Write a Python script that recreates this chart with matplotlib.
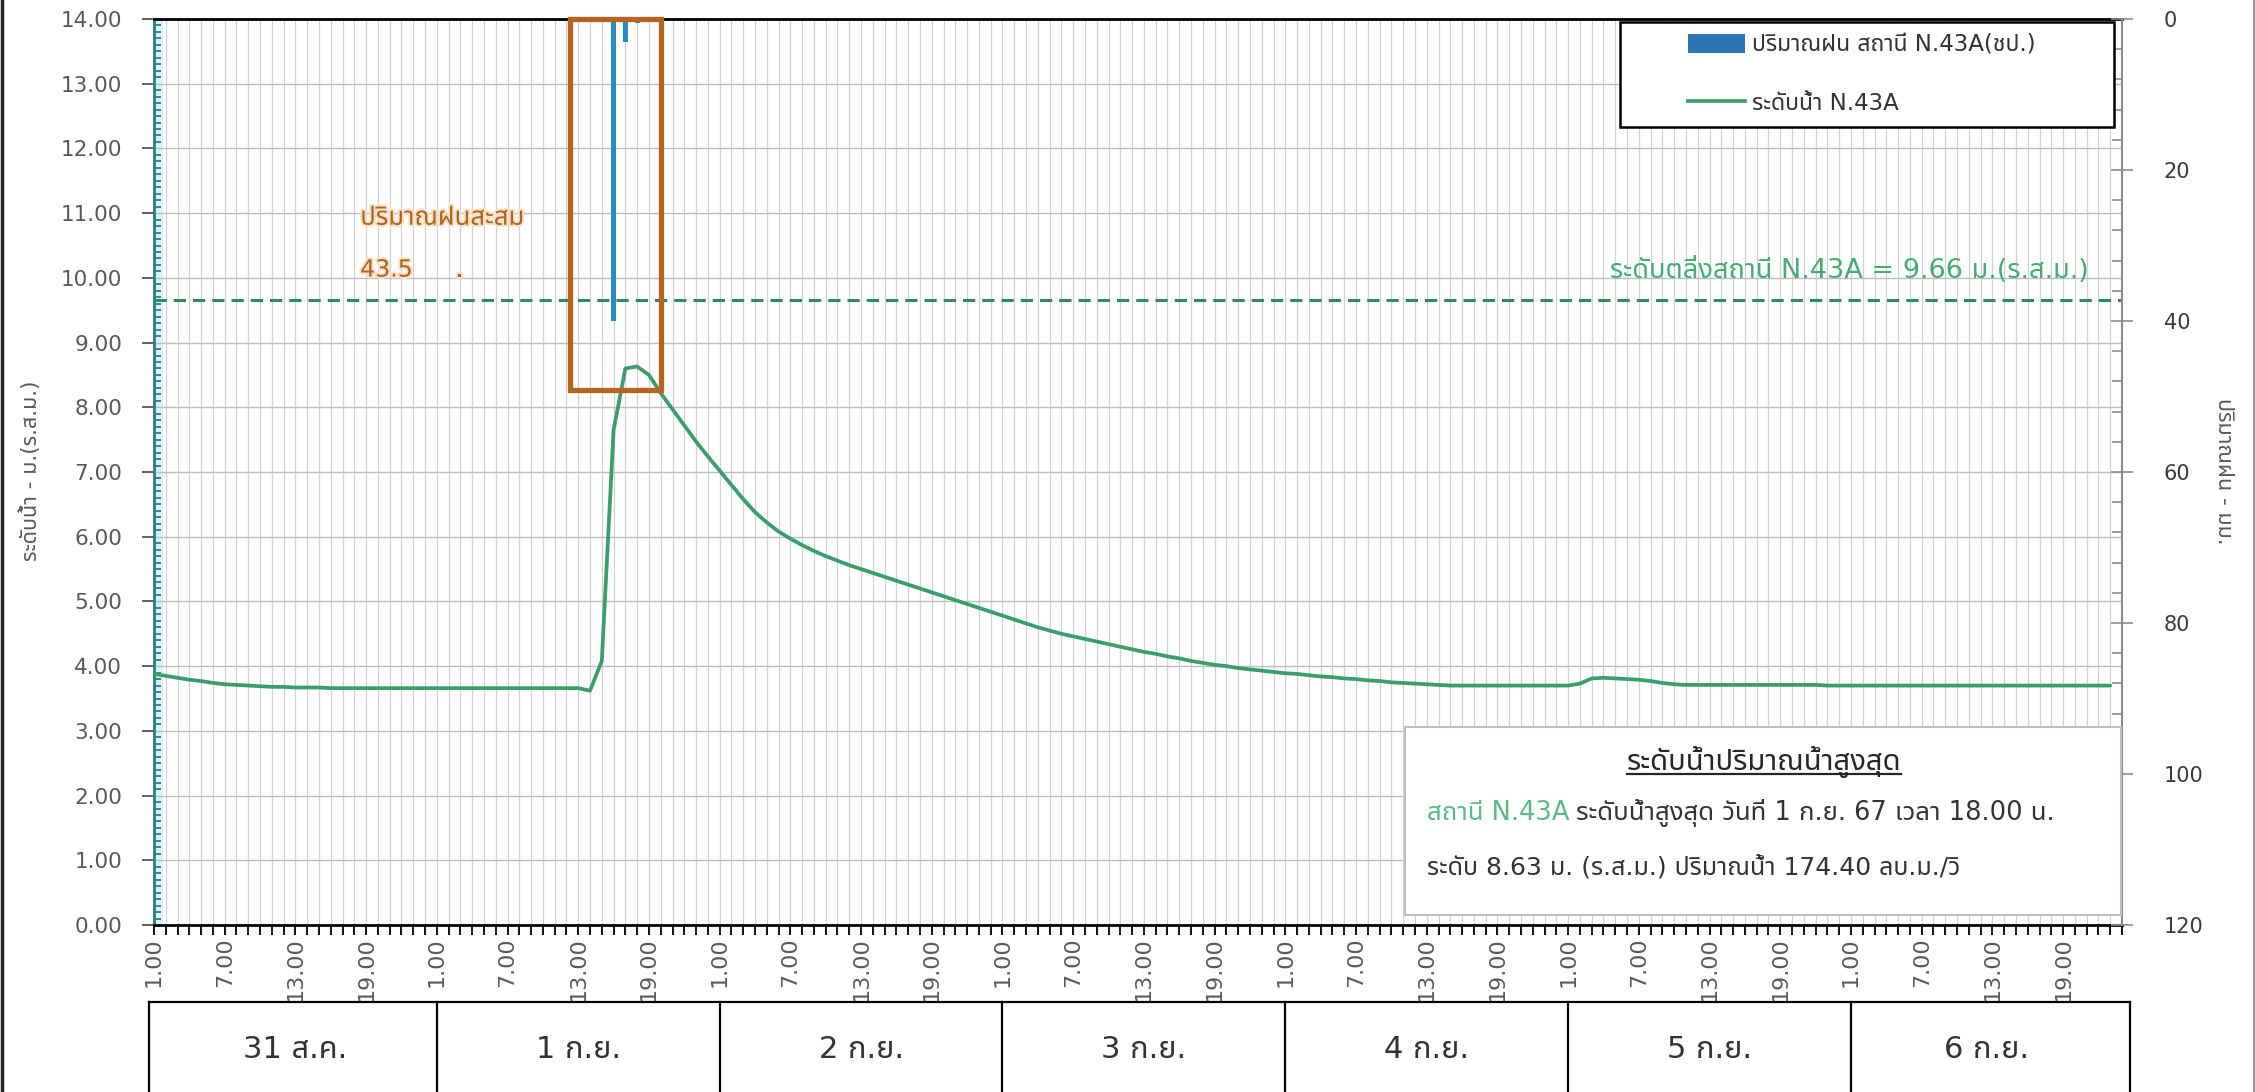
import numpy as np
import matplotlib
matplotlib.use('Agg')
import matplotlib.pyplot as plt
from matplotlib import font_manager
from matplotlib.patches import Rectangle, Patch
from matplotlib.lines import Line2D
import matplotlib.patheffects as pe


def find_thai_font():
    try:
        from fontTools.ttLib import TTFont
    except Exception:
        return None
    found = []
    for f in font_manager.fontManager.ttflist:
        try:
            kw = {}
            if f.fname.lower().endswith(('.ttc', '.otc')):
                kw['fontNumber'] = 0
            tt = TTFont(f.fname, lazy=True, **kw)
            cmap = tt.getBestCmap() or {}
            if 0x0E01 in cmap and 0x0E49 in cmap and 0x0E33 in cmap:
                found.append(f.name)
        except Exception:
            pass
    pref = ['Tahoma', 'Noto Sans Thai', 'Noto Sans Thai UI', 'Loma', 'Garuda',
            'Umpush', 'Sarabun', 'Waree', 'Kinnari', 'Norasi', 'Laksaman']
    for p in pref:
        if p in found:
            return p
    return found[0] if found else None


thai = find_thai_font()
families = ['DejaVu Sans'] + ([thai] if thai and thai != 'DejaVu Sans' else [])
plt.rcParams['font.family'] = families

# ---------------- data ----------------
day_labels = ['31 ส.ค.', '1 ก.ย.', '2 ก.ย.', '3 ก.ย.', '4 ก.ย.', '5 ก.ย.', '6 ก.ย.']
hour_tick_labels = ['1.00', '7.00', '13.00', '19.00']

# hourly water level (m. MSL), 31 Aug 1.00 onward
level_31aug = [3.88, 3.85, 3.82, 3.79, 3.77, 3.74, 3.72, 3.71, 3.70, 3.69, 3.68, 3.68,
               3.67, 3.67, 3.67, 3.66, 3.66, 3.66, 3.66, 3.66, 3.66, 3.66, 3.66, 3.66]
level_1sep = [3.66, 3.66, 3.66, 3.66, 3.66, 3.66, 3.66, 3.66, 3.66, 3.66, 3.66, 3.66,
              3.66, 3.62, 4.08, 7.65, 8.60, 8.63, 8.50, 8.22, 7.97, 7.72, 7.47, 7.24]
level_2sep = [7.02, 6.80, 6.58, 6.38, 6.22, 6.08, 5.97, 5.87, 5.78, 5.70, 5.63, 5.56,
              5.50, 5.44, 5.38, 5.32, 5.26, 5.20, 5.14, 5.08, 5.02, 4.96, 4.90, 4.84]
level_3sep = [4.78, 4.72, 4.66, 4.60, 4.55, 4.50, 4.46, 4.42, 4.38, 4.34, 4.30, 4.26,
              4.22, 4.19, 4.15, 4.12, 4.08, 4.05, 4.02, 4.00, 3.97, 3.95, 3.93, 3.91]
level_4sep = [3.89, 3.88, 3.86, 3.84, 3.83, 3.81, 3.80, 3.78, 3.77, 3.75, 3.74, 3.73,
              3.72, 3.71, 3.70, 3.70, 3.70, 3.70, 3.70, 3.70, 3.70, 3.70, 3.70, 3.70]
level_5sep = [3.70, 3.73, 3.81, 3.82, 3.81, 3.80, 3.79, 3.77, 3.74, 3.72, 3.71, 3.71,
              3.71, 3.71, 3.71, 3.71, 3.71, 3.71, 3.71, 3.71, 3.71, 3.71, 3.70, 3.70]
level_6sep = [3.70, 3.70, 3.70, 3.70, 3.70, 3.70, 3.70, 3.70, 3.70, 3.70, 3.70, 3.70,
              3.70, 3.70, 3.70, 3.70, 3.70, 3.70, 3.70, 3.70, 3.70, 3.70, 3.70]

# rainfall (mm) at hour index
rain_hours = [39, 40, 41]
rain_mm = [40.0, 3.0, 0.5]

bank_level = 9.66
n_categories = 168

level = (level_31aug + level_1sep + level_2sep + level_3sep +
         level_4sep + level_5sep + level_6sep)
hours = np.arange(len(level))

# ---------------- figure ----------------
W, H = 2255, 1092
fig = plt.figure(figsize=(W / 100, H / 100), dpi=100)
fig.patch.set_facecolor('white')

L, R, B, T = 154 / W, 2122 / W, 1 - 925 / H, 1 - 19 / H
ax = fig.add_axes([L, B, R - L, T - B])
ax2 = ax.twinx()

GREEN = '#3a9e6b'
xmax = n_categories - 1
ax.set_xlim(0, xmax)
ax.set_ylim(0, 14)

# light cyan band along the left axis
ax.add_patch(Rectangle((0, 0), 9 / (2122 - 154), 1, transform=ax.transAxes,
                       facecolor='#d6f3f7', edgecolor='none', zorder=0.5))

ax.plot(hours, level, color=GREEN, lw=2.7, zorder=3, solid_capstyle='round',
        solid_joinstyle='round')
ax.axhline(bank_level, color='#2f8a60', lw=2.2, ls=(0, (4, 2.3)), zorder=2.8)

# ticks / grid
major_x = np.arange(0, xmax, 6)
ax.set_xticks(major_x)
ax.set_xticklabels([hour_tick_labels[i % 4] for i in range(len(major_x))])
ax.set_xticks(np.arange(0, xmax + 1, 1), minor=True)
ax.tick_params(axis='x', which='both', direction='out', length=7, width=1.3,
               color='black', pad=2)
ax.tick_params(axis='x', which='major', labelsize=16, labelcolor='#595959',
               labelrotation=90)
ax.grid(axis='x', which='both', color='#d2d2d2', lw=0.9)

ax.set_yticks(np.arange(0, 14.01, 1))
ax.set_yticklabels(['%.2f' % v for v in np.arange(0, 14.01, 1)])
ax.set_yticks(np.arange(0, 14.001, 0.1), minor=True)
ax.tick_params(axis='y', which='major', direction='out', length=9, width=1.3,
               color='#555555', labelsize=15.5, labelcolor='#595959', pad=14)
ax.tick_params(axis='y', which='minor', direction='in', length=5, width=1.3,
               color='#2f7c85')
ax.grid(axis='y', which='major', color='#bdbdbd', lw=1.0)
ax.set_axisbelow(True)

for s in ['top', 'bottom']:
    ax.spines[s].set_color('black')
    ax.spines[s].set_linewidth(2.0)
ax.spines['left'].set_color('#2f7c85')
ax.spines['left'].set_linewidth(2.0)
ax.spines['right'].set_visible(False)

# rainfall on twin axis (inverted)
ax2.set_ylim(120, 0)
ax2.bar(rain_hours, rain_mm, width=0.45, color='#2b8cc4', zorder=3)
ax2.set_yticks(np.arange(0, 121, 20))
ax2.set_yticks(np.arange(0, 121, 4), minor=True)
ax2.tick_params(axis='y', which='major', direction='inout', length=16, width=1.2,
                color='#8c8c8c', labelsize=15, labelcolor='#3a3a3a', pad=22)
ax2.tick_params(axis='y', which='minor', direction='in', length=7, width=1.2,
                color='#8c8c8c')
for s in ['top', 'bottom', 'left']:
    ax2.spines[s].set_visible(False)
ax2.spines['right'].set_color('#8c8c8c')
ax2.spines['right'].set_linewidth(1.5)

# orange highlight box
ax2.add_patch(Rectangle((35.3, 8.27), 43.0 - 35.3, 14.0 - 8.27, transform=ax.transData,
                        facecolor='none', edgecolor='#b5651d', lw=3.8, zorder=5,
                        clip_on=False))

# annotations
orange_fx = [pe.withStroke(linewidth=3, foreground='#f6e2c8')]
ax.text(17.5, 10.82, 'ปริมาณฝนสะสม', color='#b0651f', fontsize=18.5, va='baseline',
        ha='left', path_effects=orange_fx, zorder=6)
ax.text(17.5, 10.02, '43.5', color='#b0651f', fontsize=17, va='baseline',
        ha='left', path_effects=orange_fx, zorder=6)
ax.text(25.6, 10.02, '.', color='#b0651f', fontsize=17, va='baseline',
        ha='left', path_effects=orange_fx, zorder=6)
ax.text(164.2, 10.0, 'ระดับตลิ่งสถานี N.43A = 9.66 ม.(ร.ส.ม.)', color='#45ad72',
        fontsize=19.5, ha='right', va='baseline', zorder=6)

# axis titles
fig.text(30 / W, 1 - 471 / H, 'ระดับน้ำ - ม.(ร.ส.ม.)', rotation=90, ha='center',
         va='center', fontsize=15.5, color='#595959')
fig.text(2224 / W, 1 - 471 / H, 'ปริมาณฝน - มม.', rotation=270, ha='center',
         va='center', fontsize=15.5, color='#595959')

# legend (figure level)
fig.add_artist(Rectangle((1620 / W, 1 - 127 / H), 494 / W, 105 / H,
                         transform=fig.transFigure, facecolor='white',
                         edgecolor='black', lw=1.8, zorder=4))
handles = [Patch(facecolor='#2e75b6', edgecolor='none'),
           Line2D([0], [0], color=GREEN, lw=2.7)]
labels = ['ปริมาณฝน สถานี N.43A(ชป.)', 'ระดับน้ำ N.43A']
leg = fig.legend(handles, labels, loc='upper left',
                 bbox_to_anchor=(1688 / W, 1 - 33 / H), bbox_transform=fig.transFigure,
                 frameon=False, fontsize=16.5, handlelength=2.5, handleheight=0.9,
                 handletextpad=0.3, labelspacing=1.55, borderpad=0, borderaxespad=0)
leg.set_zorder(5)
for t in leg.get_texts():
    t.set_color('#333333')

# info box
fig.add_artist(Rectangle((1405 / W, 1 - 915 / H), (2121 - 1405) / W, 188 / H,
                         transform=fig.transFigure, facecolor='white',
                         edgecolor='#bfbfbf', lw=1.5, zorder=4))
title = fig.text(1764 / W, 1 - 770 / H, 'ระดับน้ำปริมาณน้ำสูงสุด', ha='center',
                 va='baseline', fontsize=21, fontweight='bold', color='#262626', zorder=6)
t1 = fig.text(1427 / W, 1 - 820 / H, 'สถานี N.43A', ha='left', va='baseline',
              fontsize=18.5, color='#5cb887', zorder=6)
t3 = fig.text(1427 / W, 1 - 875 / H, 'ระดับ 8.63 ม. (ร.ส.ม.) ปริมาณน้ำ 174.40 ลบ.ม./วิ',
              ha='left', va='baseline', fontsize=18, color='#333333', zorder=6)

# day boxes
axd = fig.add_axes([L, 0, R - L, 1 - 1002 / H])
axd.set_xlim(0, xmax)
axd.set_ylim(0, 1)
axd.axis('off')
ndays = len(day_labels)
bounds = [i * 24 for i in range(ndays)] + [xmax]
bounds_draw = [-0.4] + bounds[1:-1] + [xmax + 0.7]
axd.plot([bounds_draw[0], bounds_draw[-1]], [1, 1], color='black', lw=1.6, clip_on=False)
for b in bounds_draw:
    axd.plot([b, b], [0, 1], color='black', lw=1.6, clip_on=False)
for i, lab in enumerate(day_labels):
    axd.text((bounds[i] + bounds[i + 1]) / 2, 0.47, lab, ha='center', va='center',
             fontsize=22, color='#333333')

# outer border
fig.add_artist(Line2D([1.5 / W, 1.5 / W], [0, 1], transform=fig.transFigure,
                      color='#222222', lw=2.5))
fig.add_artist(Line2D([1 - 1.5 / W, 1 - 1.5 / W], [0, 1], transform=fig.transFigure,
                      color='#9a9a9a', lw=1.5))

# second part of mixed-colour line and underline of title
fig.canvas.draw()
r = fig.canvas.get_renderer()
inv = fig.transFigure.inverted()
bb1 = t1.get_window_extent(r)
x_end = inv.transform((bb1.x1, bb1.y0))[0]
fig.text(x_end + 6 / W, 1 - 820 / H, 'ระดับน้ำสูงสุด วันที่ 1 ก.ย. 67 เวลา 18.00 น.',
         ha='left', va='baseline', fontsize=18.5, color='#333333', zorder=6)
bbt = title.get_window_extent(r)
(xa, _), (xb, _) = inv.transform((bbt.x0, bbt.y0)), inv.transform((bbt.x1, bbt.y0))
uy = 1 - 774 / H
fig.add_artist(Line2D([xa, xb], [uy, uy], transform=fig.transFigure,
                      color='#262626', lw=1.6, zorder=6))

fig.savefig('out.png', dpi=100, facecolor='white')
